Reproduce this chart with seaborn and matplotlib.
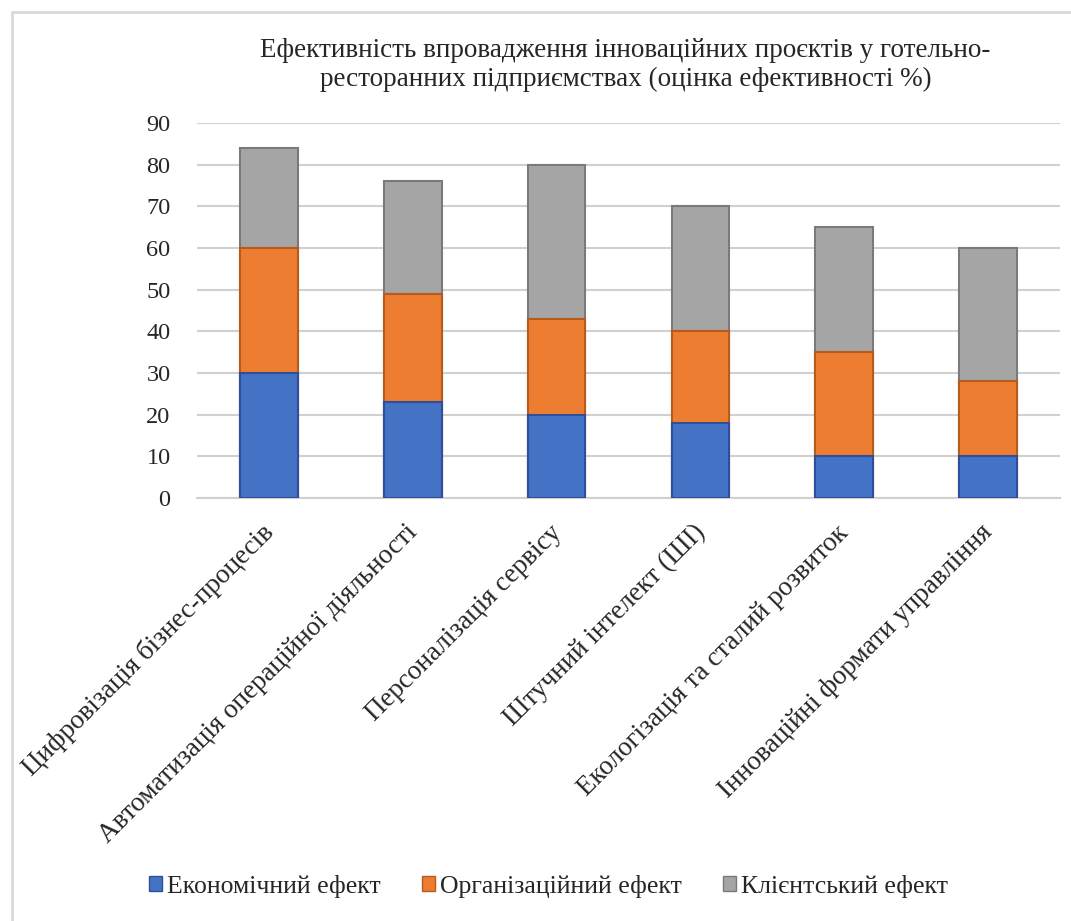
import numpy as np
import pandas as pd
import matplotlib
matplotlib.use("Agg")
import matplotlib.pyplot as plt
import seaborn as sns
from matplotlib.patches import Rectangle, Patch
import matplotlib.transforms as mtransforms

categories = [
    "Цифровізація бізнес-процесів",
    "Автоматизація операційної діяльності",
    "Персоналізація сервісу",
    "Штучний інтелект (ШІ)",
    "Екологізація та сталий розвиток",
    "Інноваційні формати управління",
]
economic = [30, 23, 20, 18, 10, 10]
organizational = [30, 26, 23, 22, 25, 18]
client = [24, 27, 37, 30, 30, 32]
series_names = ["Економічний ефект", "Організаційний ефект", "Клієнтський ефект"]
yticks = [0, 10, 20, 30, 40, 50, 60, 70, 80, 90]
title = "Ефективність впровадження інноваційних проєктів у готельно-\nресторанних підприємствах (оцінка ефективності %)"

colors = ["#4472C4", "#ED7D31", "#A5A5A5"]
edges = ["#2F4F9A", "#B85A1C", "#7A7A7A"]

sns.set_theme(style="white")
plt.rcParams["font.family"] = ["Liberation Serif", "DejaVu Serif"]

df = pd.DataFrame({
    "cat": categories,
    "s0": economic,
    "s1": organizational,
    "s2": client,
})
df["c0"] = df["s0"]
df["c1"] = df["s0"] + df["s1"]
df["c2"] = df["c1"] + df["s2"]

fig = plt.figure(figsize=(10.71, 9.21), dpi=100)
ax = fig.add_axes([197/1071, 1-498/921, (1060-197)/1071, (498-123)/921])

for col, c, e in [("c2", colors[2], edges[2]), ("c1", colors[1], edges[1]), ("c0", colors[0], edges[0])]:
    sns.barplot(data=df, x="cat", y=col, color=c, edgecolor=e, linewidth=1.5,
                width=0.4, saturation=1, ax=ax, zorder=3, errorbar=None)

ax.set_ylim(0, 90)
ax.set_xlim(-0.5, len(categories) - 0.5)
ax.set_yticks(yticks)
ax.set_yticklabels([str(v) for v in yticks], fontsize=17.5)
ax.yaxis.grid(True, color="#d0d0d0", linewidth=1.5, zorder=0)
ax.set_axisbelow(True)
for s in ["top", "right", "left"]:
    ax.spines[s].set_visible(False)
ax.spines["bottom"].set_color("#d0d0d0")
ax.spines["bottom"].set_linewidth(1.5)
ax.tick_params(axis="y", length=0, pad=19)
ax.tick_params(axis="x", length=0, pad=8)
ax.set_xlabel("")
ax.set_ylabel("")
ax.set_xticks(range(len(categories)))
ax.set_xticklabels(categories, rotation=45, ha="right", rotation_mode="anchor", fontsize=19.5)
offset = mtransforms.ScaledTranslation(1/100, -20/100, fig.dpi_scale_trans)
for lab in ax.get_xticklabels():
    lab.set_transform(lab.get_transform() + offset)
    lab.set_va("center")

fig.text(0.584, 1-65/921, title, ha="center", va="center", fontsize=19.5, linespacing=1.22)

handles = [Patch(facecolor=colors[i], edgecolor=edges[i], linewidth=1) for i in range(3)]
fig.legend(handles, series_names, loc="center", bbox_to_anchor=(0.512, 1-886/921), ncol=3,
           frameon=False, fontsize=18.5, handlelength=0.5, handleheight=0.5, handletextpad=0.2,
           columnspacing=1.6)

fig.patches.append(Rectangle((12/1071, -0.05), 1.2, 1-12/921+0.05, transform=fig.transFigure,
                             fill=False, edgecolor="#d9d9d9", linewidth=2))

fig.savefig("out.png", dpi=100, facecolor="white")
